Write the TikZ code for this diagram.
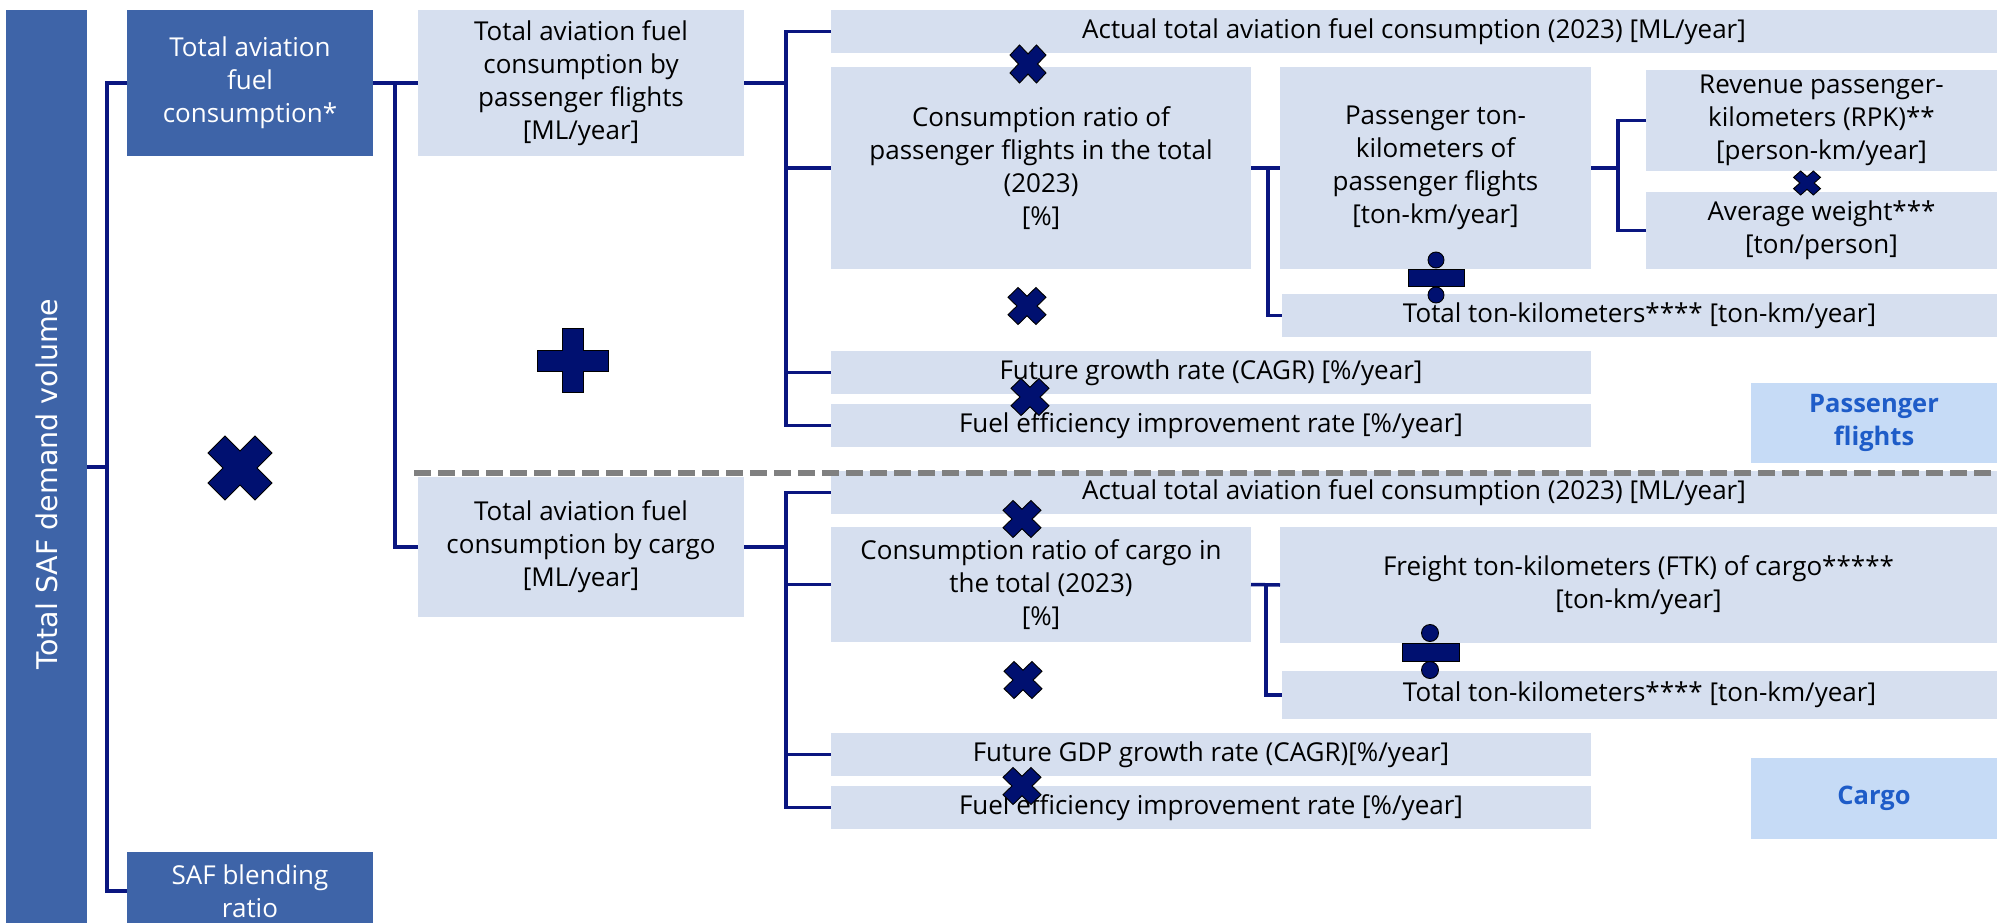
\documentclass[tikz,border=0pt]{standalone}
\usepackage{fontspec}
\setmainfont{Open Sans}
\newfontfamily\barfont{DejaVu Sans}
\definecolor{darkbox}{RGB}{62,100,168}
\definecolor{lightbox}{RGB}{214,223,239}
\definecolor{tagfill}{RGB}{198,219,246}
\definecolor{tagtext}{RGB}{30,92,200}
\definecolor{navyline}{RGB}{10,22,128}
\definecolor{symfill}{RGB}{0,16,112}
\definecolor{sepgray}{RGB}{128,128,128}
\begin{document}
\begin{tikzpicture}[x=1pt,y=-1pt,
  box/.style={inner sep=0pt, outer sep=0pt, align=center, draw=none,
    font=\fontsize{26}{33}\selectfont},
  dark/.style={box, fill=darkbox, text=white},
  light/.style={box, fill=lightbox, text=black},
  tag/.style={box, fill=tagfill, text=tagtext, font=\fontsize{25.5}{33}\selectfont\bfseries},
  conn/.style={draw=navyline, line width=3.5pt},
  sym/.style={fill=symfill, draw=black, line width=0.9pt},
  timesmark/.pic={\path[sym] (0,0.53)--(0.47,1)--(1,0.47)--(0.53,0)--(1,-0.47)--(0.47,-1)
     --(0,-0.53)--(-0.47,-1)--(-1,-0.47)--(-0.53,0)--(-1,0.47)--(-0.47,1)--cycle;}
]
\useasboundingbox (0,0) rectangle (1997,923);

% left column
\node[dark, rotate=90, minimum width=948, minimum height=81,
  font=\barfont\fontsize{28.5}{30}\selectfont] (bar) at (46.5,484) {Total SAF demand volume};
\node[dark, minimum width=246, minimum height=146] (fuel) at (250,83)
  {Total aviation\\fuel\\consumption*};
\node[dark, minimum width=246, minimum height=78] (blend) at (250,891)
  {SAF blending\\ratio};

% second column
\node[light, minimum width=326, minimum height=146] (pass) at (581,83)
  {Total aviation fuel\\consumption by\\passenger flights\\{[ML/year]}};
\node[light, minimum width=326, minimum height=140] (cargo) at (581,547)
  {Total aviation fuel\\consumption by cargo\\{[ML/year]}};

% passenger flights branch
\node[light, minimum width=1166, minimum height=43] (act1) at (1414,31.5)
  {Actual total aviation fuel consumption (2023) [ML/year]};
\node[light, minimum width=420, minimum height=202] (ratio1) at (1041,168)
  {Consumption ratio of\\passenger flights in the total\\(2023)\\{[\%]}};
\node[light, minimum width=311, minimum height=202] (ptk) at (1435.5,168)
  {Passenger ton-\\kilometers of\\passenger flights\\{[ton-km/year]}};
\node[light, minimum width=351, minimum height=101] (rpk) at (1821.5,120.5)
  {Revenue passenger-\\kilometers (RPK)**\\{[person-km/year]}};
\node[light, minimum width=351, minimum height=77] (avg) at (1821.5,230.5)
  {Average weight***\\{[ton/person]}};
\node[light, minimum width=715, minimum height=43] (ttk1) at (1639.5,315.5)
  {Total ton-kilometers**** [ton-km/year]};
\node[light, minimum width=760, minimum height=43] (fgr) at (1211,372.5)
  {Future growth rate (CAGR) [\%/year]};
\node[light, minimum width=760, minimum height=43] (fe1) at (1211,425.5)
  {Fuel efficiency improvement rate [\%/year]};
\node[tag, minimum width=246, minimum height=80] (tag1) at (1874,423)
  {Passenger\\flights};

% cargo branch
\node[light, minimum width=1166, minimum height=43] (act2) at (1414,492.5)
  {Actual total aviation fuel consumption (2023) [ML/year]};
\node[light, minimum width=420, minimum height=115] (ratio2) at (1041,584.5)
  {Consumption ratio of cargo in\\the total (2023)\\{[\%]}};
\node[light, minimum width=717, minimum height=116] (ftk) at (1638.5,585)
  {Freight ton-kilometers (FTK) of cargo*****\\{[ton-km/year]}};
\node[light, minimum width=715, minimum height=48] (ttk2) at (1639.5,695)
  {Total ton-kilometers**** [ton-km/year]};
\node[light, minimum width=760, minimum height=43] (gdp) at (1211,754.5)
  {Future GDP growth rate (CAGR)[\%/year]};
\node[light, minimum width=760, minimum height=43] (fe2) at (1211,807.5)
  {Fuel efficiency improvement rate [\%/year]};
\node[tag, minimum width=246, minimum height=81] (tag2) at (1874,798.5)
  {Cargo};

% tree connectors
\draw[conn] ([yshift=17pt]bar.south) -- ++(20,0);
\draw[conn] (fuel.west) -- ++(-20,0) |- (blend.west);
\draw[conn] (fuel.east) -- (pass.west);
\draw[conn] (pass.west) ++(-23,0) |- (cargo.west);
\foreach \t in {act1,ratio1,fgr,fe1}
  \draw[conn] (pass.east) -- ++(42,0) |- (\t.west);
\draw[conn] (ratio1.east) -- (ptk.west);
\draw[conn] (ratio1.east) -- ++(17,0) |- (ttk1.west);
\foreach \t in {rpk,avg}
  \draw[conn] (ptk.east) -- ++(27,0) |- (\t.west);
\foreach \t in {act2,ratio2,gdp,fe2}
  \draw[conn] (cargo.east) -- ++(42,0) |- (\t.west);
\draw[conn] (ratio2.east) -- (ftk.west);
\draw[conn] (ratio2.east) -- ++(15,0) |- (ttk2.west);

% separator between the two segments
\draw[sepgray, line width=5.5pt, dash pattern=on 17pt off 7pt] (414,473) -- (1997,473);

% operators
\pic[xscale=32, yscale=32] at (240,468) {timesmark};
\pic[xscale=18, yscale=19] at (1028,64) {timesmark};
\pic[xscale=19, yscale=18.5] at (1027,306) {timesmark};
\pic[xscale=19, yscale=18.5] at (1030,397) {timesmark};
\pic[xscale=13.5, yscale=12] at (1807,183) {timesmark};
\pic[xscale=19, yscale=18.5] at (1022,519) {timesmark};
\pic[xscale=19, yscale=18.5] at (1023,680) {timesmark};
\pic[xscale=19, yscale=18.5] at (1022,786) {timesmark};
% plus
\path[sym] (562,328) -- (583,328) -- (583,350) -- (608,350) -- (608,371) -- (583,371)
  -- (583,392) -- (562,392) -- (562,371) -- (537,371) -- (537,350) -- (562,350) -- cycle;
% divide signs
\path[sym] (1436,260) circle[radius=8];
\path[sym] (1408,269) rectangle (1464,286);
\path[sym] (1436,295) circle[radius=8];
\path[sym] (1430,633) circle[radius=8.5];
\path[sym] (1402,643) rectangle (1459,661);
\path[sym] (1430,670) circle[radius=8.5];
\end{tikzpicture}
\end{document}
